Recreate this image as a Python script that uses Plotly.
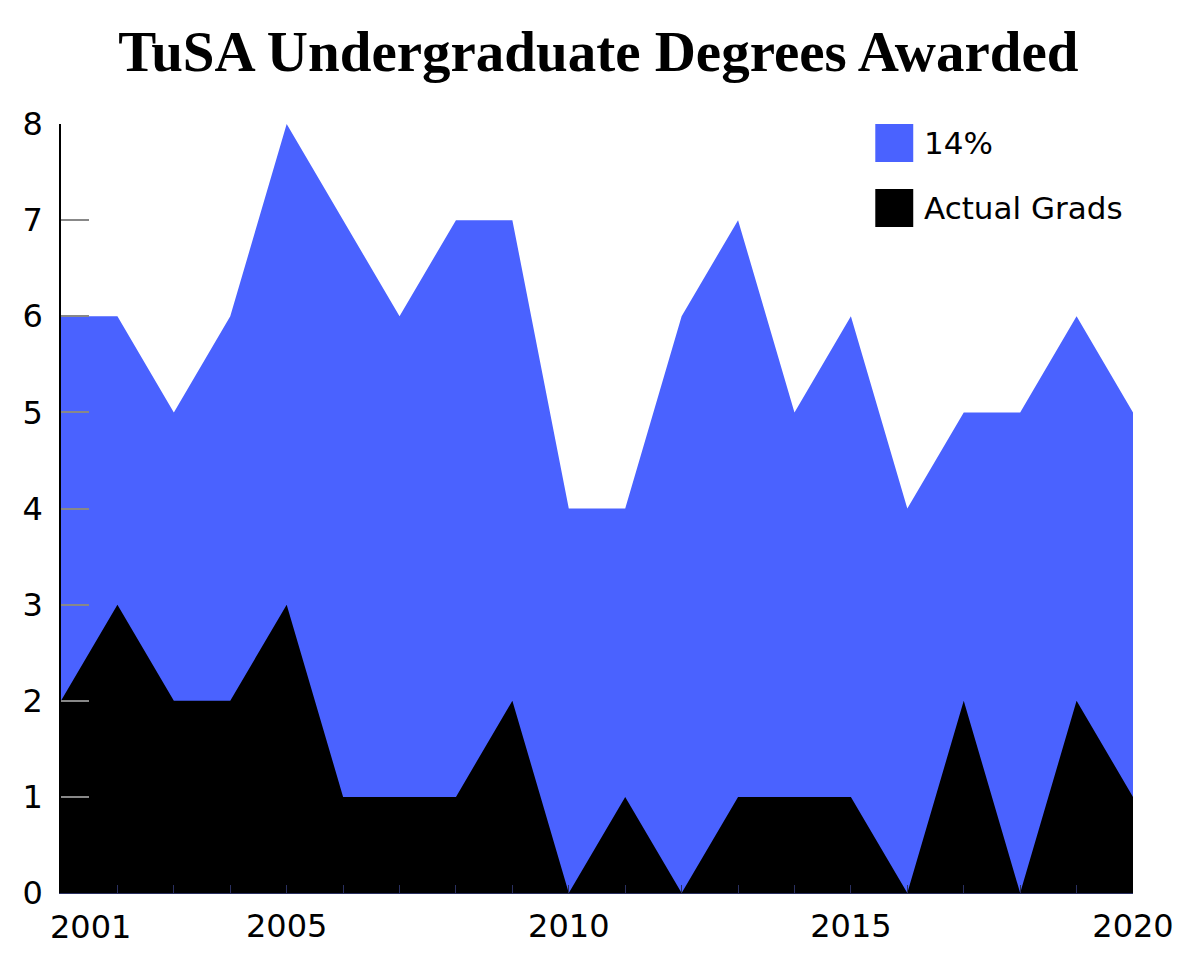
import plotly.graph_objects as go

# TuSA undergraduate degrees: 14% benchmark vs actual graduates
years = list(range(2001, 2021))
pct14 = [6, 6, 5, 6, 8, 7, 6, 7, 7, 4, 4, 6, 7, 5, 6, 4, 5, 5, 6, 5]
actual = [2, 3, 2, 2, 3, 1, 1, 1, 2, 0, 1, 0, 1, 1, 1, 0, 2, 0, 2, 1]
labeled_years = [2001, 2005, 2010, 2015, 2020]
series_names = ["14%", "Actual Grads"]

BLUE = "#4A62FF"
FONT = "DejaVu Sans"

fig = go.Figure()

# overlapping areas (not stacked), blue behind black
fig.add_trace(go.Scatter(x=years, y=pct14, mode="lines", line=dict(width=0, color=BLUE),
                         fill="tozeroy", fillcolor=BLUE, name=series_names[0],
                         showlegend=False))
fig.add_trace(go.Scatter(x=years, y=actual, mode="lines", line=dict(width=0, color="black"),
                         fill="tozeroy", fillcolor="black", name=series_names[1],
                         showlegend=False))

# hand-drawn legend: plotly caps legend symbol size, the reference has big squares
legend_rows = [(series_names[0], BLUE, 1.0), (series_names[1], "black", 0.9155)]
for name, col, top in legend_rows:
    fig.add_shape(type="rect", xref="paper", yref="paper", x0=0.7596, x1=0.795,
                  y0=top - 0.0494, y1=top, fillcolor=col, line=dict(width=0))
    fig.add_annotation(text=name, xref="paper", yref="paper", x=0.8034, y=top - 0.0247,
                       xanchor="left", yanchor="middle", showarrow=False,
                       font=dict(size=31, family=FONT, color="black"))

# first year label sits a bit to the right so it clears the "0"
fig.add_annotation(text="2001", x=2001, xref="x", y=0, yref="paper", xanchor="left",
                   yanchor="top", xshift=-13, yshift=-13, showarrow=False,
                   font=dict(size=32, family=FONT, color="black"))

fig.update_layout(
    width=1200, height=960,
    margin=dict(l=53, r=75, t=116, b=75),
    paper_bgcolor="white", plot_bgcolor="white",
    title=dict(text="<b>TuSA Undergraduate Degrees Awarded</b>", x=0.492, xanchor="center",
               y=0.955, yanchor="middle",
               font=dict(family="Liberation Serif", size=57, color="black")),
    font=dict(family=FONT, color="black"),
    showlegend=False,
)

fig.update_xaxes(range=[2001, 2020], tickvals=years,
                 ticktext=[str(y) if y in labeled_years and y != 2001 else "" for y in years],
                 ticks="inside", ticklen=8, tickcolor="#2a3060", tickwidth=1,
                 showline=True, linecolor="#2a3060", linewidth=1,
                 showgrid=False, zeroline=False, ticklabelstandoff=5,
                 tickfont=dict(size=32, family=FONT))
fig.update_yaxes(range=[0, 8], dtick=1, ticks="inside", ticklen=28, tickcolor="#888888",
                 tickwidth=2, showline=True, linecolor="black", linewidth=1.5,
                 showgrid=False, zeroline=False, ticklabelstandoff=10,
                 tickfont=dict(size=32, family=FONT))

fig.write_html("out.html")
